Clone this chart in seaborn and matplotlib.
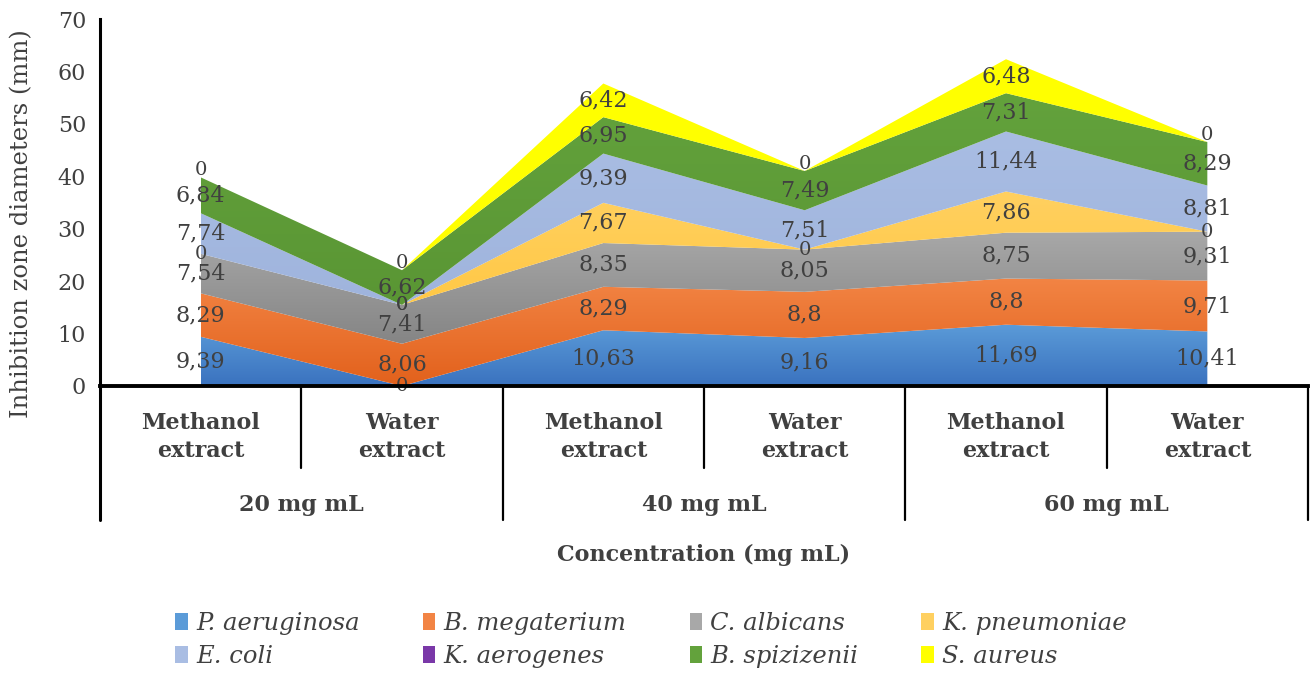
import numpy as np
import seaborn as sns
import matplotlib.pyplot as plt
from matplotlib.colors import LinearSegmentedColormap
from matplotlib.patches import Patch

# data
extracts = ['Methanol\nextract', 'Water\nextract'] * 3
concentrations = ['20 mg mL', '40 mg mL', '60 mg mL']
species = ['P. aeruginosa', 'B. megaterium', 'C. albicans', 'K. pneumoniae',
           'E. coli', 'K. aerogenes', 'B. spizizenii', 'S. aureus']
p_aeruginosa = [9.39, 0, 10.63, 9.16, 11.69, 10.41]
b_megaterium = [8.29, 8.06, 8.29, 8.8, 8.8, 9.71]
c_albicans = [7.54, 7.41, 8.35, 8.05, 8.75, 9.31]
k_pneumoniae = [0, 0, 7.67, 0, 7.86, 0]
e_coli = [7.74, 0, 9.39, 7.51, 11.44, 8.81]
k_aerogenes = [0, 0, 0, 0, 0, 0]
b_spizizenii = [6.84, 6.62, 6.95, 7.49, 7.31, 8.29]
s_aureus = [0, 0, 6.42, 0, 6.48, 0]
series = [p_aeruginosa, b_megaterium, c_albicans, k_pneumoniae,
          e_coli, k_aerogenes, b_spizizenii, s_aureus]
show_labels = [True, True, True, True, True, False, True, True]

# (top colour, bottom colour) for the gradient fills
palette = [('#5b9bd8', '#3a72bf'), ('#f28444', '#e2611c'), ('#a8a8a8', '#858585'),
           ('#ffd060', '#ffc845'), ('#a9bde3', '#9fb4dd'), ('#7a38a8', '#6a2c98'),
           ('#63a23c', '#5a9634'), ('#ffff00', '#ffff00')]

sns.set_theme(style='white')
plt.rcParams['font.family'] = ['DejaVu Serif']
txt = '#404040'

fig = plt.figure(figsize=(13.1, 6.73), dpi=100)
ax = fig.add_axes([100 / 1310, (673 - 386) / 673, 1208 / 1310, 367 / 673])

x = np.arange(len(p_aeruginosa))
bottom = np.zeros(len(x))
for k, (vals, (ctop, cbot), lab) in enumerate(zip(series, palette, show_labels)):
    vals = np.array(vals, dtype=float)
    top = bottom + vals
    poly = ax.fill_between(x, bottom, top, facecolor='none', edgecolor='none')
    if vals.sum() > 0:
        cmap = LinearSegmentedColormap.from_list('g', [cbot, ctop])
        grad = np.linspace(0, 1, 256).reshape(-1, 1)
        im = ax.imshow(grad, cmap=cmap, aspect='auto', origin='lower',
                       extent=[x[0], x[-1], bottom.min(), top.max()], zorder=2)
        im.set_clip_path(poly.get_paths()[0], transform=ax.transData)
    if lab:
        for xi, b, v in zip(x, bottom, vals):
            s = f'{v:g}'.replace('.', ',')
            # zero labels of the top series sit just above the stack
            dy = 5 if (v == 0 and k == len(series) - 1) else 0
            ax.annotate(s, (xi, b + v / 2), xytext=(0, dy), textcoords='offset points',
                        ha='center', va='center', color=txt,
                        fontsize=16 if v > 0 else 14, zorder=5)
    bottom = top

ax.set_xlim(-0.5, 5.5)
ax.set_ylim(0, 70)
ax.set_yticks(range(0, 71, 10))
ax.tick_params(axis='y', labelsize=16, labelcolor=txt, length=0, pad=10)
ax.set_xticks([])
sns.despine(ax=ax, top=True, right=True)
ax.spines['left'].set_color('black')
ax.spines['left'].set_linewidth(2.2)
ax.spines['bottom'].set_color('black')
ax.spines['bottom'].set_linewidth(2.8)
ax.spines['bottom'].set_zorder(6)

# two-level category axis drawn below the plot
tr = ax.get_xaxis_transform()
for xs in [-0.5, 1.5, 3.5, 5.5]:
    ax.plot([xs, xs], [0, -0.365], color='black', lw=1.6 if xs > -0.5 else 2.2,
            transform=tr, clip_on=False)
for xs in [0.5, 2.5, 4.5]:
    ax.plot([xs, xs], [0, -0.2234], color='black', lw=1.6, transform=tr, clip_on=False)
for xi, name in zip(x, extracts):
    ax.text(xi, -0.139, name, transform=tr, ha='center', va='center', fontsize=16,
            fontweight='bold', color=txt, linespacing=1.4)
for i, name in enumerate(concentrations):
    ax.text(2 * i + 0.5, -0.324, name, transform=tr, ha='center', va='center',
            fontsize=16, fontweight='bold', color=txt)
ax.text(0.5, -0.46, 'Concentration (mg mL)', transform=ax.transAxes, ha='center',
        va='center', fontsize=16, fontweight='bold', color=txt)
fig.text(22 / 1310, (673 - 224) / 673, 'Inhibition zone diameters (mm)', rotation=90,
         ha='center', va='center', fontsize=17.5, color=txt)

handles = [Patch(facecolor=c[0], edgecolor='none', label=n) for n, c in zip(species, palette)]
order = [0, 4, 1, 5, 2, 6, 3, 7]
leg = fig.legend([handles[i] for i in order], [species[i] for i in order], ncol=4,
                 loc='center', bbox_to_anchor=(0.497, 0.049), frameon=False,
                 prop={'style': 'italic', 'size': 17.5}, handlelength=0.5,
                 handleheight=0.7, handletextpad=0.35, columnspacing=2.6,
                 labelspacing=0.45)
for t in leg.get_texts():
    t.set_color(txt)

fig.savefig('out.png', dpi=100)
